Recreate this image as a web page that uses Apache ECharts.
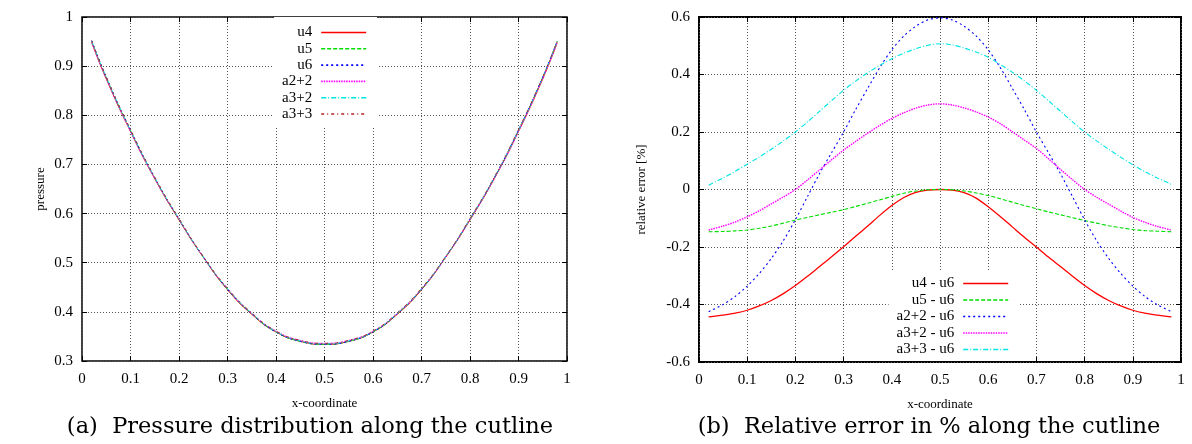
<!DOCTYPE html>
<html><head><meta charset="utf-8">
<script src="https://cdn.jsdelivr.net/npm/echarts@6/dist/echarts.min.js"></script>
<style>html,body{margin:0;padding:0;background:#fff}#c{width:1192px;height:444px}</style>
</head><body><div id="c"></div>
<script>
// (a) x positions and pressure along the cutline
const xCoordA = [0.02,0.05,0.10,0.15,0.20,0.25,0.30,0.35,0.40,0.45,0.50,0.55,0.60,0.65,0.70,0.75,0.80,0.85,0.90,0.95,0.98];
const pU4  = [0.948,0.874,0.767,0.671,0.587,0.511,0.445,0.395,0.359,0.340,0.334,0.340,0.359,0.395,0.445,0.511,0.587,0.671,0.767,0.874,0.948];
const pU5  = [0.951,0.877,0.769,0.672,0.588,0.512,0.446,0.396,0.359,0.340,0.334,0.340,0.359,0.396,0.446,0.512,0.588,0.672,0.769,0.877,0.951];
const pU6  = [0.952,0.878,0.770,0.673,0.589,0.512,0.446,0.396,0.359,0.340,0.334,0.340,0.359,0.396,0.446,0.512,0.589,0.673,0.770,0.878,0.952];
const pA22 = [0.948,0.875,0.767,0.671,0.588,0.512,0.447,0.397,0.361,0.342,0.336,0.342,0.361,0.397,0.447,0.512,0.588,0.671,0.767,0.875,0.948];
const pA32 = [0.951,0.877,0.769,0.673,0.589,0.512,0.447,0.397,0.360,0.341,0.335,0.341,0.360,0.397,0.447,0.512,0.589,0.673,0.769,0.877,0.951];
const pA33 = [0.952,0.878,0.771,0.674,0.590,0.513,0.448,0.398,0.361,0.342,0.336,0.342,0.361,0.398,0.448,0.513,0.590,0.674,0.771,0.878,0.952];

// (b) x positions and relative error in %
const xCoordB = [0.02,0.05,0.075,0.1,0.125,0.15,0.175,0.2,0.225,0.25,0.275,0.3,0.325,0.35,0.375,0.4,0.425,0.45,0.475,0.5,
                 0.525,0.55,0.575,0.6,0.625,0.65,0.675,0.7,0.725,0.75,0.775,0.8,0.825,0.85,0.875,0.9,0.925,0.95,0.98];
const eU4  = [-0.443,-0.437,-0.430,-0.420,-0.405,-0.386,-0.362,-0.334,-0.302,-0.268,-0.234,-0.199,-0.163,-0.127,-0.090,-0.056,-0.028,-0.010,-0.002,0.000,
              -0.002,-0.011,-0.030,-0.060,-0.094,-0.130,-0.166,-0.200,-0.235,-0.268,-0.302,-0.334,-0.362,-0.386,-0.405,-0.420,-0.430,-0.437,-0.443];
const eU5  = [-0.147,-0.146,-0.144,-0.141,-0.135,-0.127,-0.117,-0.106,-0.097,-0.088,-0.079,-0.070,-0.059,-0.048,-0.036,-0.024,-0.013,-0.005,-0.001,0.000,
              -0.001,-0.005,-0.012,-0.021,-0.032,-0.044,-0.056,-0.067,-0.078,-0.088,-0.098,-0.108,-0.117,-0.126,-0.133,-0.139,-0.143,-0.145,-0.147];
const eA22 = [-0.425,-0.400,-0.372,-0.336,-0.292,-0.240,-0.178,-0.105,-0.025,0.055,0.128,0.200,0.278,0.352,0.424,0.486,0.534,0.568,0.590,0.597,
              0.590,0.568,0.534,0.486,0.424,0.352,0.278,0.200,0.128,0.055,-0.025,-0.105,-0.178,-0.240,-0.292,-0.336,-0.372,-0.400,-0.425];
const eA32 = [-0.141,-0.127,-0.113,-0.095,-0.074,-0.050,-0.026,0.000,0.033,0.068,0.103,0.137,0.167,0.196,0.223,0.247,0.267,0.283,0.294,0.298,
              0.294,0.284,0.270,0.252,0.229,0.201,0.172,0.143,0.107,0.070,0.034,0.000,-0.027,-0.051,-0.075,-0.097,-0.114,-0.128,-0.141];
const eA33 = [0.015,0.040,0.063,0.088,0.113,0.140,0.169,0.200,0.235,0.272,0.309,0.345,0.377,0.406,0.432,0.455,0.474,0.490,0.502,0.507,
              0.503,0.492,0.478,0.460,0.435,0.408,0.378,0.345,0.309,0.272,0.235,0.200,0.169,0.140,0.112,0.086,0.062,0.041,0.018];

const namesA = ['u4','u5','u6','a2+2','a3+2','a3+3'];
const namesB = ['u4 - u6','u5 - u6','a2+2 - u6','a3+2 - u6','a3+3 - u6'];
const captionA = '(a)  Pressure distribution along the cutline';
const captionB = '(b)  Relative error in % along the cutline';

const F = 'Liberation Serif';
const FC = 'DejaVu Serif';
const colors = ['#ff0000','#00dd00','#0000ff','#ff00ff','#00e5e5','#b22222'];
const dashes = ['solid',[4,2],[2,3],[1.5,1],[5,2,1,2],[3,3,1,3]];
const widths = [1.3,1.1,1.1,1.4,1.1,1.1];

function pairs(xs, v){ return xs.map((x,i)=>[x,v[i]]); }

function xAx(grid, pos, show){
  return {type:'value', gridIndex:grid, position:pos, min:0, max:1, interval:0.1,
    axisLine:{show:false, onZero:false},
    axisTick:{show:true, inside:true, length:5, lineStyle:{color:'#000'}},
    axisLabel:{show:show, color:'#000', fontFamily:F, fontSize:15, margin:11},
    splitLine:{show:show, lineStyle:{color:'#555', type:[1,2], width:1}},
    name: show ? 'x-coordinate' : '', nameLocation:'middle', nameGap:36,
    nameTextStyle:{color:'#000', fontFamily:F, fontSize:13}};
}
function yAx(grid, pos, show, min, max, iv, name, gap){
  return {type:'value', gridIndex:grid, position:pos, min:min, max:max, interval:iv,
    axisLine:{show:false, onZero:false},
    axisTick:{show:true, inside:true, length:5, lineStyle:{color:'#000'}},
    axisLabel:{show:show, color:'#000', fontFamily:F, fontSize:15, margin:9},
    splitLine:{show:show, lineStyle:{color:'#555', type:[1,2], width:1}},
    name: show ? name : '', nameLocation:'middle', nameGap:gap, nameRotate:90,
    nameTextStyle:{color:'#000', fontFamily:F, fontSize:13}};
}

const seriesA = [pU4,pU5,pU6,pA22,pA32,pA33].map((v,i)=>({
  type:'line', name:namesA[i], xAxisIndex:0, yAxisIndex:0, data:pairs(xCoordA, v),
  symbol:'none', smooth:0.5, animation:false,
  lineStyle:{color:colors[i], width:1, type:dashes[i]}, itemStyle:{color:colors[i]}
}));
const seriesB = [eU4,eU5,eA22,eA32,eA33].map((v,i)=>({
  type:'line', name:namesB[i], xAxisIndex:2, yAxisIndex:2, data:pairs(xCoordB, v),
  symbol:'none', smooth:0.3, animation:false,
  lineStyle:{color:colors[i], width:widths[i], type:dashes[i]}, itemStyle:{color:colors[i]}
}));

function legendData(names){
  return names.map((n,i)=>({name:n, lineStyle:{color:colors[i], width:1.6, type:dashes[i]}}));
}
const legendCommon = {orient:'vertical', align:'right', itemWidth:45, itemHeight:15,
  backgroundColor:'#fff',
  itemStyle:{color:'rgba(0,0,0,0)', borderWidth:0, opacity:0},
  textStyle:{fontFamily:F, fontSize:15, color:'#000', lineHeight:15, padding:[0,4,0,0]}};

const chart = echarts.init(document.getElementById('c'), null, {renderer:'canvas'});
chart.setOption({
  animation:false,
  backgroundColor:'#fff',
  title:[
    {text:captionA, left:305, top:411, textAlign:'center',
     textStyle:{fontFamily:FC, fontSize:22.5, fontWeight:'normal', color:'#000'}},
    {text:captionB, left:924, top:411, textAlign:'center',
     textStyle:{fontFamily:FC, fontSize:22.5, fontWeight:'normal', color:'#000'}}
  ],
  grid:[
    {left:82, top:17, width:485, height:344, show:true, borderColor:'#000', borderWidth:1.5, backgroundColor:'transparent'},
    {left:699, top:17, width:482, height:345, show:true, borderColor:'#000', borderWidth:2, backgroundColor:'transparent'}
  ],
  xAxis:[ xAx(0,'bottom',true), xAx(0,'top',false), xAx(1,'bottom',true), xAx(1,'top',false) ],
  yAxis:[
    yAx(0,'left',true,0.3,1,0.1,'pressure',35), yAx(0,'right',false,0.3,1,0.1,'',0),
    yAx(1,'left',true,-0.6,0.6,0.2,'relative error [%]',51), yAx(1,'right',false,-0.6,0.6,0.2,'',0)
  ],
  legend:[
    Object.assign({}, legendCommon, {data:legendData(namesA), right:1192-377, top:17, itemGap:1.3, padding:[8,10,6,8]}),
    Object.assign({}, legendCommon, {data:legendData(namesB), right:1192-1020, top:271, itemGap:1.5, padding:[5,11,4,8]})
  ],
  series: seriesA.concat(seriesB)
});
</script>
</body></html>
